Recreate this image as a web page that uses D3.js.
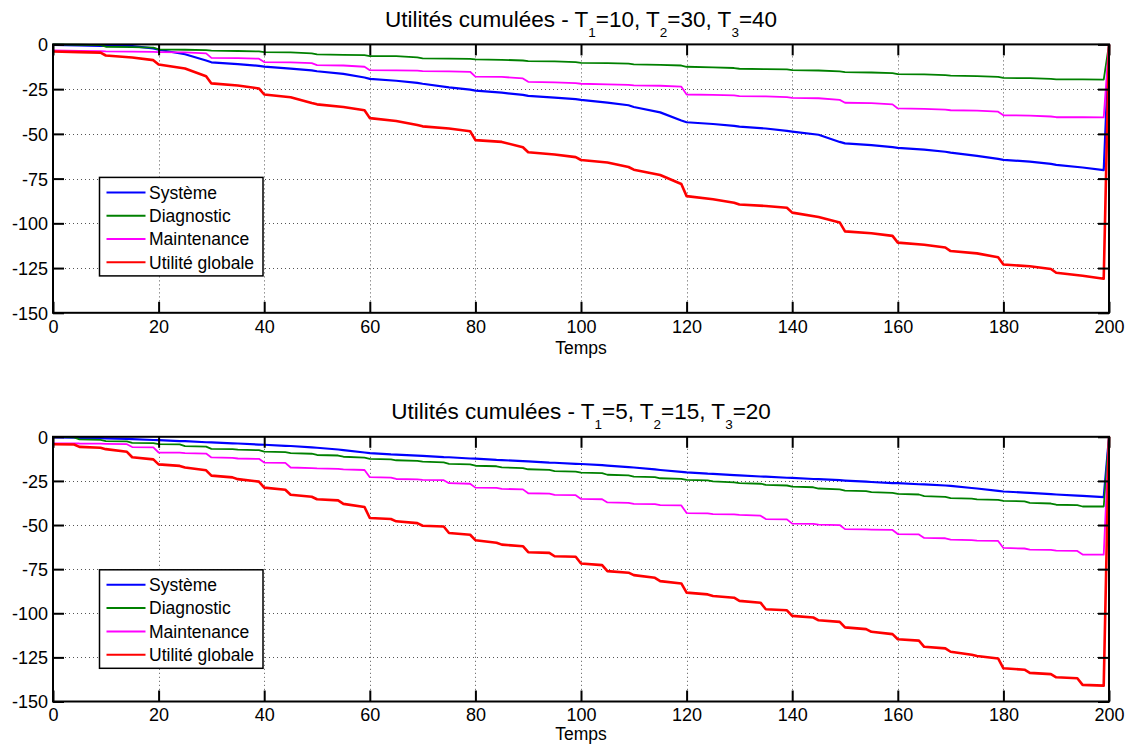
<!DOCTYPE html>
<html>
<head>
<meta charset="utf-8">
<script src="https://cdn.jsdelivr.net/npm/d3@7"></script>
<style>
  html, body { margin: 0; padding: 0; background: #fff; }
  svg { display: block; font-family: "Liberation Sans", Arial, Helvetica, sans-serif; }
</style>
</head>
<body>
<script>
// ---------------- DATA ----------------
const seriesNames = ["Système", "Diagnostic", "Maintenance", "Utilité globale"];
const xTicks = [0, 20, 40, 60, 80, 100, 120, 140, 160, 180, 200];
const yTicks = [-150, -125, -100, -75, -50, -25, 0];
const paramsTop = [10, 30, 40];
const paramsBottom = [5, 15, 20];

// Top panel (T1=10, T2=30, T3=40)
const timesTop = [0,5,9, 10,15,19, 20,25,29, 30,35,39, 40,45,49, 50,55,59, 60,65,69, 70,75,79,
  80,85,89, 90,95,99, 100,105,109, 110,115,119, 120,125,129, 130,135,139, 140,145,149,
  150,155,159, 160,165,169, 170,175,179, 180,185,189, 190,195,199, 200];
const systemeTop = [-0.3,-0.5,-0.8, -0.8,-1,-2.2, -3,-5.5,-9, -10,-11,-12, -12.4,-13.5,-14.5,
  -15,-16.5,-18.5, -19.3,-20.3,-21.5, -22,-24,-25.3, -25.8,-27,-28.2, -28.8,-29.8,-30.6,
  -31,-32.5,-34, -35,-38,-42.5, -43.5,-44.5,-45.5, -46,-47,-48.3, -48.7,-50.5,-54.5,
  -55.3,-56.3,-57.4, -57.8,-58.8,-60, -60.5,-62.3,-64, -64.5,-65.5,-66.8, -67.3,-68.8,-70.3, 0];
const diagnosticTop = [0,-0.2,-0.4, -1.3,-1.5,-1.8, -2.8,-3,-3.2, -3.5,-3.7,-3.9, -4.3,-4.5,-5,
  -5.6,-5.8,-6, -6.5,-6.6,-7.2, -7.8,-7.9,-8.1, -8.4,-8.6,-9, -9.3,-9.5,-9.9,
  -10.3,-10.5,-10.8, -11.2,-11.4,-11.8, -12.5,-12.8,-13.2, -13.6,-13.8,-14, -14.4,-14.6,-15.1,
  -15.5,-15.7,-16, -16.6,-16.8,-17.2, -17.5,-17.7,-18.2, -18.7,-18.9,-19.3, -19.6,-19.6,-19.7, 0];
const maintenanceTop = [-3.4,-3.6,-3.8, -3.9,-4,-4.2, -4.3,-4.5,-5, -7.5,-7.7,-8, -9.9,-10.1,-10.5,
  -11.6,-11.8,-12.5, -14.4,-14.5,-14.7, -14.9,-15.1,-15.3, -18,-18.2,-19, -20.9,-21.2,-21.6,
  -22,-22.3,-22.6, -22.9,-23.1,-23.6, -28,-28.2,-28.5, -28.9,-29.1,-29.5, -29.9,-30.1,-31,
  -32.6,-32.8,-33.5, -35.8,-36,-36.4, -36.8,-37,-37.6, -39.6,-39.8,-40.3, -40.7,-40.7,-40.8, 0];
const globaleTop = [-4,-4.3,-4.6, -6.2,-7.3,-8.8, -11.2,-13.5,-17.8, -21.8,-23,-24.6, -28,-29.5,-32.8,
  -33.5,-35,-36.8, -41.2,-42.8,-45, -45.8,-47,-48.5, -53.5,-54.5,-57.5, -60.3,-61.5,-63,
  -64.6,-66,-68.5, -70,-73,-78, -84.8,-86.5,-88.5, -89.5,-90.3,-91.3, -94,-96.5,-99.5,
  -104.5,-105.5,-107, -110.8,-112,-113.5, -115.5,-116.8,-119, -123,-124,-125.5, -127.6,-129.3,-131, 0];

// Bottom panel (T1=5, T2=15, T3=20)
const timesBottom = [0,4, 5,9, 10,14, 15,19, 20,24, 25,29, 30,34, 35,39, 40,44, 45,49,
  50,54, 55,59, 60,64, 65,69, 70,74, 75,79, 80,84, 85,89, 90,94, 95,99,
  100,104, 105,109, 110,114, 115,119, 120,124, 125,129, 130,134, 135,139, 140,144, 145,149,
  150,154, 155,159, 160,164, 165,169, 170,174, 175,179, 180,184, 185,189, 190,194, 195,199, 200];
const systemeBottom = [-0.4,-0.5, -0.6,-0.8, -0.9,-1.2, -1.3,-1.8, -1.9,-2.4, -2.5,-3.1, -3.2,-3.7,
  -3.8,-4.4, -4.5,-5.1, -5.2,-6, -6.2,-7.2, -7.5,-8.9, -9.2,-10, -10.1,-10.7, -10.8,-11.5,
  -11.6,-12.3, -12.4,-13.1, -13.2,-13.8, -13.9,-14.6, -14.7,-15.3, -15.4,-16.1, -16.3,-17.2,
  -17.4,-18.5, -18.8,-19.9, -20.2,-20.9, -21,-21.7, -21.9,-22.5, -22.6,-23.2, -23.3,-23.9,
  -24,-24.6, -24.8,-25.4, -25.6,-26.2, -26.3,-26.9, -27,-27.6, -27.8,-29, -29.3,-30.6,
  -31,-31.6, -31.8,-32.5, -32.7,-33.3, -33.5,-34.2, 0];
const diagnosticBottom = [0,-0.3, -1.5,-1.7, -2.4,-2.6, -3.4,-3.6, -4.1,-4.3, -5.3,-5.6, -6.8,-7,
  -7.3,-7.6, -8.4,-8.7, -9.2,-9.6, -10.3,-10.6, -11.3,-11.8, -12.5,-12.8, -13.3,-13.6,
  -14.1,-14.5, -15.3,-15.6, -16.4,-16.7, -17.3,-17.7, -18.4,-18.7, -19.4,-19.7, -20.3,-20.6,
  -21.5,-21.9, -22.6,-22.8, -23.5,-23.8, -24.4,-24.7, -25.3,-25.8, -26.3,-26.6, -27.2,-27.6,
  -28.2,-28.6, -29.3,-29.8, -30.5,-30.8, -31.4,-31.8, -32.3,-32.7, -33.6,-34, -34.8,-35,
  -35.5,-35.8, -36.3,-36.6, -37.5,-37.8, -38.5,-38.7, -39.5,-39.5, 0];
const maintenanceBottom = [-3.7,-3.7, -3.8,-3.9, -4,-4.2, -5.8,-6, -8.9,-9, -9.3,-9.5, -11.7,-11.9,
  -12.3,-12.5, -14.6,-14.8, -17.4,-17.7, -17.9,-18.2, -18.5,-18.8, -22.9,-23.1, -23.9,-24.1,
  -24.4,-24.6, -26.3,-26.6, -28.8,-29, -29.5,-29.8, -32,-32.2, -32.9,-33.1, -35.2,-35.4,
  -37.2,-37.4, -38,-38.2, -38.7,-38.9, -43.2,-43.4, -43.8,-44, -44.2,-44.7, -46.6,-46.8,
  -49.2,-49.4, -49.8,-50, -52.3,-52.5, -52.6,-52.8, -55.1,-55.3, -57.3,-57.5, -58.3,-58.5,
  -58.8,-59, -63,-63.3, -63.9,-64.1, -64.5,-64.7, -66.7,-66.8, 0];
const globaleBottom = [-4.2,-4.4, -5.7,-6.2, -7,-8.5, -11.6,-12.8, -15.6,-16.5, -17.4,-19, -22,-23,
  -24,-25.4, -28.8,-30, -32.8,-34, -35.4,-36, -38,-39.8, -46,-46.6, -47.9,-48.9, -50.4,-50.8,
  -54.5,-55.5, -58.6,-60, -61.1,-62, -65.4,-65.8, -67.7,-68, -71.8,-72.7, -76.1,-77,
  -78.4,-79.9, -81.8,-83.1, -88.3,-89.3, -90.2,-91.2, -93,-94, -97.7,-98.3, -101.5,-102.4,
  -104,-104.9, -108,-109, -110.5,-111.8, -114.7,-115.5, -119,-119.9, -121.8,-123.5,
  -124.2,-125.6, -131.2,-132, -133.8,-134.5, -136.3,-136.8, -140.6,-141, 0];

const seriesColors = ["#0000ff", "#008000", "#ff00ff", "#ff0000"];
const seriesWidths = [2.2, 1.8, 1.8, 2.6];

// ---------------- DRAWING ----------------
const W = 1131, H = 744;
const svg = d3.select("body").append("svg").attr("width", W).attr("height", H);

function drawPanel(opts) {
  const x = d3.scaleLinear().domain([0, 200]).range([53, 1109]);
  const y = d3.scaleLinear().domain([-150, 0]).range([opts.bottom, opts.top]);
  const g = svg.append("g");

  // grid
  const grid = g.append("g").attr("stroke", "#555").attr("stroke-width", 1)
    .attr("stroke-dasharray", "1,3");
  grid.selectAll("line.vx").data(xTicks.filter(d => d > 0 && d < 200)).join("line")
    .attr("x1", d => Math.round(x(d)) + 0.5).attr("x2", d => Math.round(x(d)) + 0.5)
    .attr("y1", y(0)).attr("y2", y(-150));
  grid.selectAll("line.hy").data(yTicks.filter(d => d > -150 && d < 0)).join("line")
    .attr("y1", d => Math.round(y(d)) + 0.5).attr("y2", d => Math.round(y(d)) + 0.5)
    .attr("x1", x(0)).attr("x2", x(200));

  // series
  const line = d3.line().x((d, i) => x(opts.times[i])).y(d => y(d));
  opts.series.forEach((vals, k) => {
    const n = Math.min(vals.length, opts.times.length);
    g.append("path").datum(vals.slice(0, n))
      .attr("fill", "none").attr("stroke", seriesColors[k])
      .attr("stroke-width", seriesWidths[k]).attr("stroke-linejoin", "round")
      .attr("d", line);
  });

  // axes
  const fontSize = 18;
  const axB = g.append("g").attr("transform", `translate(0,${opts.bottom})`)
    .call(d3.axisBottom(x).tickValues(xTicks).tickSizeInner(-11).tickSizeOuter(0)
      .tickPadding(7).tickFormat(d => String(d)));
  const axL = g.append("g").attr("transform", `translate(53,0)`)
    .call(d3.axisLeft(y).tickValues(yTicks).tickSizeInner(-11).tickSizeOuter(0)
      .tickPadding(5).tickFormat(d => String(d)));
  const axT = g.append("g").attr("transform", `translate(0,${opts.top})`)
    .call(d3.axisTop(x).tickValues(xTicks).tickSizeInner(-11).tickSizeOuter(0).tickFormat(""));
  const axR = g.append("g").attr("transform", `translate(1109,0)`)
    .call(d3.axisRight(y).tickValues(yTicks).tickSizeInner(-11).tickSizeOuter(0).tickFormat(""));
  [axB, axL, axT, axR].forEach(a => {
    a.select(".domain").remove();
    a.selectAll(".tick line").attr("stroke", "#000").attr("stroke-width", 2);
    a.selectAll(".tick text").attr("fill", "#000").attr("font-size", fontSize)
      .attr("font-family", '"Liberation Sans", Arial, sans-serif');
  });
  axL.selectAll(".tick text").attr("dy", "0.36em");

  // box
  g.append("rect").attr("x", x(0)).attr("y", y(0))
    .attr("width", x(200) - x(0)).attr("height", y(-150) - y(0))
    .attr("fill", "none").attr("stroke", "#000").attr("stroke-width", 2);

  // title with subscripts
  const t = g.append("text").attr("x", (x(0) + x(200)) / 2).attr("y", opts.top - 17.5)
    .attr("text-anchor", "middle").attr("font-size", 22.5).attr("fill", "#000");
  t.append("tspan").text("Utilités cumulées - T");
  opts.params.forEach((p, i) => {
    t.append("tspan").attr("font-size", 13.5).attr("dy", 10).text(String(i + 1));
    t.append("tspan").attr("dy", -10).text("=" + p + (i < opts.params.length - 1 ? ", T" : ""));
  });

  // x label
  g.append("text").attr("x", (x(0) + x(200)) / 2).attr("y", opts.bottom + opts.xlabelOffset)
    .attr("text-anchor", "middle").attr("font-size", 17.5).attr("fill", "#000").text("Temps");

  // legend
  const lx = 99.5, ly = opts.top + 133, lw = 163.5, lh = 98.5;
  const lg = g.append("g");
  lg.append("rect").attr("x", lx).attr("y", ly).attr("width", lw).attr("height", lh)
    .attr("fill", "#fff").attr("stroke", "#000").attr("stroke-width", 1.5);
  seriesNames.forEach((name, k) => {
    const ry = ly + 15 + k * 23.3;
    lg.append("line").attr("x1", lx + 7).attr("x2", lx + 46).attr("y1", ry).attr("y2", ry)
      .attr("stroke", seriesColors[k]).attr("stroke-width", 2);
    lg.append("text").attr("x", lx + 49.5).attr("y", ry).attr("dy", "0.36em")
      .attr("font-size", 17.5).attr("fill", "#000").text(name);
  });
}

drawPanel({ top: 44.4, bottom: 312.8, xlabelOffset: 41, times: timesTop, params: paramsTop,
  series: [systemeTop, diagnosticTop, maintenanceTop, globaleTop] });
drawPanel({ top: 436.8, bottom: 701.5, xlabelOffset: 38.8, times: timesBottom, params: paramsBottom,
  series: [systemeBottom, diagnosticBottom, maintenanceBottom, globaleBottom] });
</script>
</body>
</html>
